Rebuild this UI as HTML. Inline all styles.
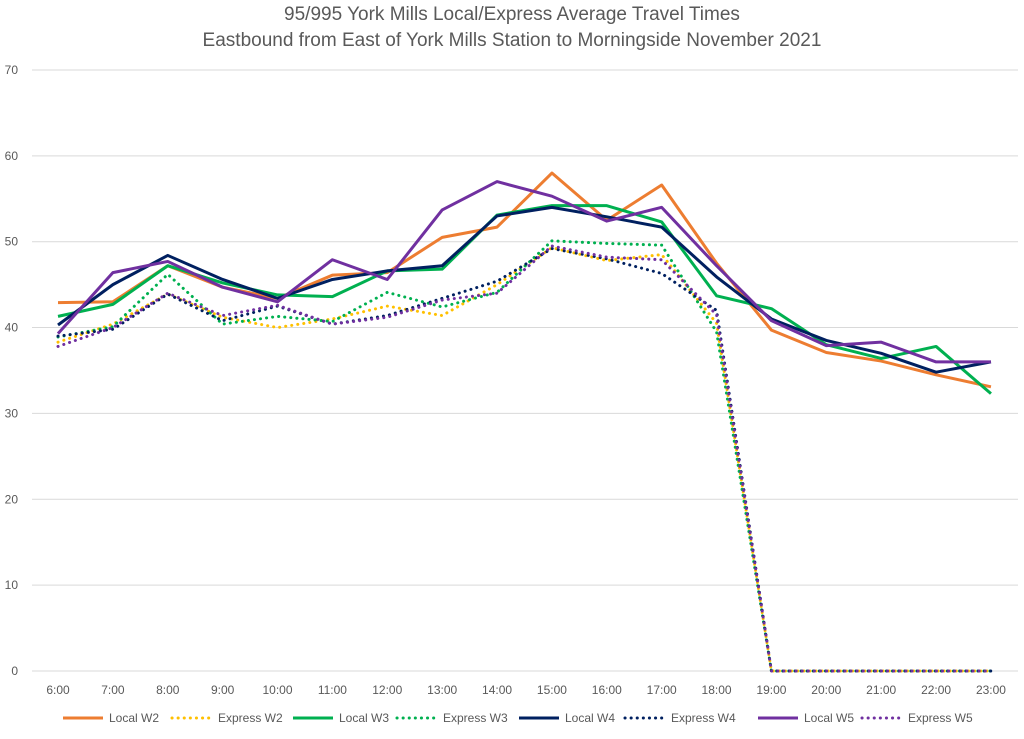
<!DOCTYPE html>
<html><head><meta charset="utf-8"><style>
body{margin:0;background:#fff;width:1024px;height:734px;overflow:hidden;font-family:"Liberation Sans",sans-serif}
</style></head><body>
<svg id="chart" width="1024" height="734" xmlns="http://www.w3.org/2000/svg">
<text x="512" y="20" text-anchor="middle" font-size="19" fill="#595959">95/995 York Mills Local/Express Average Travel Times</text>
<text x="512" y="46" text-anchor="middle" font-size="19" fill="#595959">Eastbound from East of York Mills Station to Morningside November 2021</text>
<g id="grid"></g><g id="series"></g><g id="legend"></g>
</svg>
<script>
const categories=["6:00","7:00","8:00","9:00","10:00","11:00","12:00","13:00","14:00","15:00","16:00","17:00","18:00","19:00","20:00","21:00","22:00","23:00"];
const yTicks=[0,10,20,30,40,50,60,70];
const localW2=[42.9,43.0,47.2,44.7,43.4,46.1,46.4,50.5,51.7,58.0,52.5,56.6,47.5,39.7,37.1,36.1,34.5,33.1];
const expressW2=[38.3,40.4,43.9,41.2,40.0,41.0,42.5,41.4,45.0,49.3,47.8,48.5,40.5,0,0,0,0,0];
const localW3=[41.3,42.7,47.2,45.2,43.8,43.6,46.6,46.8,53.1,54.2,54.2,52.3,43.7,42.2,38.0,36.4,37.8,32.3];
const expressW3=[38.9,40.1,46.2,40.4,41.3,40.7,44.1,42.4,44.1,50.1,49.8,49.6,39.5,0,0,0,0,0];
const localW4=[40.3,45.0,48.4,45.6,43.4,45.6,46.6,47.2,53.0,54.0,52.9,51.7,45.9,41.0,38.5,37.0,34.8,36.0];
const expressW4=[39.0,39.8,43.9,40.8,42.5,40.4,41.4,43.4,45.4,49.2,48.0,46.3,42.0,0,0,0,0,0];
const localW5=[39.3,46.4,47.7,44.7,43.0,47.9,45.6,53.7,57.0,55.3,52.4,54.0,47.2,40.8,37.9,38.3,36.0,36.0];
const expressW5=[37.8,40.0,44.0,41.4,42.6,40.4,41.2,43.2,44.0,49.5,48.2,47.9,41.5,0,0,0,0,0];
const seriesNames=["Local W2","Express W2","Local W3","Express W3","Local W4","Express W4","Local W5","Express W5"];

const NS="http://www.w3.org/2000/svg";
const X=i=>58+i*54.88, Y=v=>671-v*8.586;
function mk(t,a,p){const e=document.createElementNS(NS,t);for(const k in a)e.setAttribute(k,a[k]);p.appendChild(e);return e;}
const grid=document.getElementById('grid');
yTicks.forEach(v=>{
  const l=mk('line',{x1:32,x2:1018,y1:Y(v),y2:Y(v),stroke:'#d9d9d9','stroke-width':1},grid);
  
  
  const t=mk('text',{x:18,y:Y(v)+4,'text-anchor':'end','font-size':12,fill:'#595959'},grid);
  t.textContent=v;
  
  
});
categories.forEach((c,i)=>{
  const t=mk('text',{x:X(i),y:694,'text-anchor':'middle','font-size':12,fill:'#595959'},grid);
  t.textContent=c;
  
  
});
const defs=[[localW2,'#ED7D31',false],[expressW2,'#FFC000',true],[localW3,'#00B050',false],[expressW3,'#00B050',true],[localW4,'#002060',false],[expressW4,'#002060',true],[localW5,'#7030A0',false],[expressW5,'#7030A0',true]];
const sg=document.getElementById('series');
defs.forEach((d,k)=>{
  const pts=d[0].map((v,i)=>X(i)+','+Y(v)).join(' ');
  const p=mk('polyline',{points:pts,fill:'none',stroke:d[1],'stroke-width':3,'stroke-linejoin':'round','stroke-linecap':d[2]?'round':'butt'},sg);
  if(d[2])p.setAttribute('stroke-dasharray','0.1 6');
  
  
});
const lg=document.getElementById('legend');
const lx=[63,172,293,397,519,625,758,862];
defs.forEach((d,k)=>{
  const g=mk('g',{},lg);
  
  
  const l=mk('line',{x1:lx[k],x2:lx[k]+40,y1:718,y2:718,stroke:d[1],'stroke-width':3,'stroke-linecap':d[2]?'round':'butt'},g);
  if(d[2])l.setAttribute('stroke-dasharray','0.1 6');
  const t=mk('text',{x:lx[k]+46,y:722,'font-size':12,fill:'#595959'},g);
  t.textContent=seriesNames[k];
});
</script>
</body></html>
